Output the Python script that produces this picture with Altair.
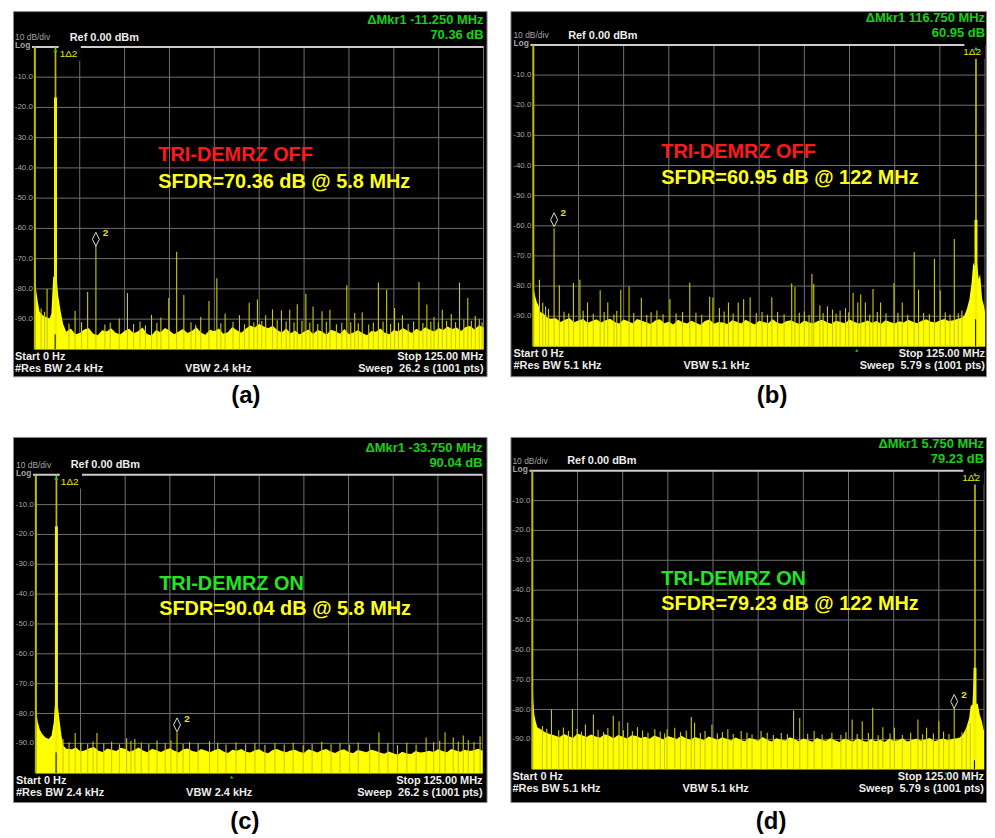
import altair as alt
import pandas as pd

FONT = "Liberation Sans"

# ---------------- shared axis data ----------------
GRID_F = [0, 12.5, 25, 37.5, 50, 62.5, 75, 87.5, 100, 112.5, 125]
GRID_DB = [-10, -20, -30, -40, -50, -60, -70, -80, -90, -100]
YLAB_DB = [-10, -20, -30, -40, -50, -60, -70, -80, -90]
YLAB_TXT = ["-10.0", "-20.0", "-30.0", "-40.0", "-50.0", "-60.0", "-70.0", "-80.0", "-90.0"]
BIN = 1.25  # MHz spacing of the typed noise-floor samples

# ---------------- panel (a): OFF, 5.8 MHz ----------------
A_NEAR = [(0.0, -66.3), (0.18, -77.8), (0.37, -80.5), (0.83, -84.4), (1.3, -87.6), (2.2, -88.7),
          (3.1, -89.3), (4.1, -89.8), (4.6, -88.2), (5.1, -76.2), (5.55, -75.1), (6.0, -75.6),
          (6.5, -82.2), (7.2, -87.6), (7.85, -91.5)]
A_FLOOR_F0 = 8.75
A_FLOOR = [-94.2, -93.1, -95.0, -94.6, -93.4, -92.9, -94.8, -95.3, -93.7, -94.1,
           -93.0, -94.5, -95.1, -93.9, -93.2, -94.7, -94.0, -92.8, -94.9, -95.4,
           -93.6, -94.3, -92.9, -93.8, -95.0, -94.2, -93.3, -94.6, -93.9, -92.7,
           -94.4, -95.2, -93.5, -94.0, -93.1, -94.8, -94.3, -92.6, -93.7, -94.5,
           -93.2, -92.1, -92.8, -91.6, -92.4, -93.0, -92.2, -93.6, -94.4, -93.1,
           -94.7, -93.8, -95.1, -94.2, -93.4, -94.9, -93.6, -94.1, -95.2, -93.5,
           -94.0, -94.8, -93.3, -95.0, -94.4, -93.7, -94.6, -95.3, -93.9, -94.2,
           -93.1, -94.5, -95.0, -93.6, -94.1, -92.9, -93.8, -94.6, -93.2, -94.0,
           -92.7, -93.5, -94.1, -92.9, -93.6, -92.4, -93.3, -92.8, -93.9, -92.6,
           -92.3, -93.4, -92.0, -92.8]
A_FAR = []
A_SPURS = [(1.75, -86.5), (2.7, -87.6), (3.4, -80.0), (11.2, -87.3), (14.7, -81.0), (17.0, -65.8),
           (23.5, -89.8), (25.8, -81.4), (32.5, -88.6), (35.1, -89.5), (37.3, -83.0), (39.5, -67.7),
           (41.5, -82.0), (46.2, -89.3), (48.5, -84.0), (50.7, -76.5), (53.0, -88.1), (57.0, -88.7),
           (59.7, -84.6), (62.0, -83.5), (64.3, -88.7), (66.2, -86.8), (68.7, -87.1), (71.0, -86.9),
           (73.1, -85.1), (75.5, -81.6), (77.5, -85.8), (80.0, -87.4), (82.2, -86.9), (86.9, -78.8),
           (89.1, -88.0), (91.2, -87.7), (95.7, -77.9), (98.0, -80.2), (100.2, -86.3), (102.4, -88.7),
           (107.0, -77.7), (109.2, -85.2), (111.2, -89.3), (113.5, -86.9), (116.0, -88.3),
           (118.3, -77.9), (120.6, -83.0), (122.7, -89.0), (124.6, -91.0),
           (9.5, -91.5), (13.0, -91.0), (19.5, -91.8), (21.0, -91.2), (27.5, -91.6), (29.3, -90.8),
           (30.8, -92.0), (34.0, -91.3), (43.5, -91.0), (44.8, -91.9), (51.8, -91.4), (55.2, -90.9),
           (58.4, -91.7), (61.0, -91.0), (63.2, -90.6), (67.5, -90.4), (70.0, -90.8), (72.2, -91.1),
           (74.4, -90.5), (76.6, -91.2), (78.8, -91.6), (81.2, -90.9), (84.0, -91.7), (85.5, -91.2),
           (88.0, -91.0), (90.1, -91.4), (93.0, -91.8), (94.3, -91.1), (97.0, -90.9), (99.1, -91.5),
           (101.3, -91.2), (104.0, -91.6), (105.5, -90.8), (108.1, -91.3), (110.3, -90.9),
           (112.4, -91.0), (114.7, -90.6), (117.2, -91.0), (119.5, -90.2), (121.6, -90.5), (123.8, -90.0)]

# ---------------- panel (b): OFF, 122 MHz ----------------
B_NEAR = [(0.0, -73.3), (0.1, -80.4), (0.3, -82.1), (0.55, -83.5), (1.0, -85.4), (1.45, -86.4),
          (1.95, -88.6), (2.85, -89.2), (3.75, -90.3), (4.7, -90.8)]
B_FLOOR_F0 = 6.25
B_FLOOR = [-90.7, -91.9, -91.2, -90.6, -92.0, -91.4, -90.9, -92.2, -91.6, -91.0,
           -92.1, -91.3, -90.8, -91.9, -92.4, -91.1, -91.7, -92.3, -90.9, -91.5,
           -92.0, -92.6, -91.4, -91.0, -92.3, -91.8, -92.7, -91.2, -91.9, -92.4,
           -91.5, -92.2, -92.8, -91.6, -91.1, -92.5, -91.9, -92.1, -92.6, -91.3,
           -91.8, -92.4, -91.2, -92.0, -92.7, -91.5, -91.9, -92.3, -91.0, -92.2,
           -92.5, -91.7, -91.3, -92.1, -92.6, -91.4, -92.0, -92.4, -91.6, -91.2,
           -92.0, -92.5, -91.5, -91.9, -92.3, -91.1, -91.8, -92.4, -92.0, -91.4,
           -92.2, -91.6, -92.5, -91.3, -91.9, -92.4, -91.7, -92.1, -91.2, -91.8,
           -92.3, -91.5, -91.0, -91.8, -92.1, -91.4, -90.9, -91.6, -91.3, -90.8]
B_FAR = [(118.6, -90.5), (119.3, -89.7), (120.0, -87.5), (120.7, -84.3), (121.3, -78.8),
         (121.75, -72.2), (122.1, -73.3), (122.5, -72.0), (122.85, -72.8), (123.25, -77.7),
         (123.65, -76.1), (124.2, -84.3), (124.7, -86.4), (125.0, -88.6)]
B_SPURS = [(1.7, -77.9), (5.75, -60.8), (7.2, -79.7), (11.1, -79.0), (12.9, -77.9), (15.0, -85.4),
           (18.5, -81.4), (20.6, -85.4), (24.2, -81.2), (26.5, -80.1), (29.9, -83.9), (34.2, -88.1),
           (37.8, -84.3), (41.3, -88.6), (43.3, -78.8), (48.8, -83.5), (49.7, -83.8), (51.5, -87.3),
           (54.0, -85.4), (56.7, -85.4), (58.2, -84.4), (60.0, -83.7), (63.3, -88.6), (66.0, -83.7),
           (71.5, -79.1), (72.4, -80.3), (75.0, -88.4), (77.1, -76.0), (77.6, -79.3), (79.3, -86.4),
           (81.4, -86.7), (82.8, -87.8), (84.9, -88.1), (86.4, -87.3), (88.5, -82.3), (89.8, -85.4),
           (90.6, -82.8), (91.9, -85.4), (94.0, -81.0), (96.1, -85.4), (99.8, -79.0), (102.1, -85.4),
           (105.4, -68.7), (106.6, -81.2), (111.0, -70.9), (112.6, -81.5), (116.5, -64.4),
           (118.6, -88.1),
           (2.6, -85.5), (3.4, -86.8), (4.2, -87.5), (8.5, -88.5), (9.8, -89.0), (13.8, -88.2),
           (16.6, -89.2), (19.6, -88.6), (22.3, -89.4), (23.1, -88.3), (27.8, -88.9), (31.4, -89.6),
           (32.6, -88.7), (35.9, -89.3), (39.5, -89.0), (45.0, -88.8), (46.6, -89.5), (52.8, -88.4),
           (55.3, -89.1), (61.7, -88.9), (64.8, -89.5), (67.6, -88.6), (69.4, -89.3), (73.6, -88.8),
           (76.3, -89.6), (80.2, -88.9), (83.8, -89.2), (87.3, -88.7), (93.1, -89.4), (95.2, -88.6),
           (97.6, -89.0), (100.9, -88.8), (103.6, -89.5), (108.0, -88.9), (109.6, -89.3),
           (114.0, -88.7), (115.3, -89.4), (117.6, -89.0)]

# ---------------- panel (c): ON, 5.8 MHz ----------------
C_NEAR = [(0.0, -68.3), (0.19, -79.9), (0.56, -83.0), (1.11, -85.4), (1.76, -86.9), (2.69, -88.0),
          (3.62, -88.5), (4.4, -87.4), (5.0, -83.0), (5.3, -77.5), (5.75, -77.0), (6.2, -78.0),
          (6.7, -83.0), (7.15, -87.4), (7.7, -90.7), (8.5, -91.8)]
C_FLOOR_F0 = 10.0
C_FLOOR = [-92.0, -91.4, -92.7, -92.3, -91.6, -91.2, -92.5, -92.9, -91.7, -92.1,
           -92.6, -91.5, -91.9, -92.8, -92.2, -91.4, -92.4, -93.0, -91.8, -92.3,
           -92.9, -92.1, -91.6, -92.5, -93.1, -92.0, -91.7, -92.6, -92.9, -91.9,
           -92.4, -93.0, -92.2, -91.8, -92.7, -93.2, -92.1, -92.5, -91.9, -92.8,
           -93.1, -92.3, -92.0, -92.9, -93.3, -92.2, -91.9, -92.6, -93.0, -92.4,
           -92.1, -92.8, -93.2, -92.0, -92.5, -93.1, -92.3, -91.9, -92.7, -93.2,
           -92.4, -92.0, -92.9, -93.3, -92.2, -92.6, -93.0, -92.1, -92.5, -93.1,
           -93.5, -92.7, -93.3, -93.8, -92.8, -93.4, -93.6, -92.6, -93.1, -92.9,
           -92.5, -92.9, -92.0, -92.6, -93.0, -91.9, -92.4, -92.8, -92.1, -92.6,
           -92.3, -91.8, -92.5]
C_FAR = []
C_SPURS = [(11.0, -86.5), (17.1, -86.5), (25.4, -88.3), (27.7, -88.5), (39.5, -86.3), (96.0, -86.3),
           (109.2, -88.0), (114.5, -86.3), (116.8, -88.0), (119.6, -87.4), (124.3, -87.6),
           (7.6, -88.5), (9.3, -89.6), (12.6, -89.8), (14.5, -90.2), (16.0, -89.4), (19.0, -90.0),
           (21.2, -89.5), (23.4, -90.3), (26.6, -89.2), (29.5, -89.7), (31.6, -90.1), (33.9, -89.0),
           (36.2, -89.9), (37.8, -89.0), (41.2, -90.2), (43.0, -89.6), (45.4, -90.0), (48.6, -89.3),
           (50.9, -89.8), (53.2, -90.4), (56.0, -89.7), (58.7, -90.3), (61.3, -89.9), (64.1, -90.5),
           (66.9, -90.0), (69.5, -90.4), (72.0, -89.8), (74.8, -90.6), (77.3, -90.1), (80.0, -89.5),
           (82.6, -90.3), (85.1, -89.9), (87.8, -90.5), (90.2, -89.7), (93.4, -90.2), (98.5, -89.9),
           (101.2, -90.6), (103.8, -89.8), (106.4, -90.4), (111.3, -89.6), (113.0, -89.2),
           (118.2, -89.4), (121.0, -88.9), (122.6, -89.6)]

# ---------------- panel (d): ON, 122 MHz ----------------
D_NEAR = [(0.0, -66.7), (0.28, -77.2), (0.55, -81.7), (0.92, -83.9), (1.38, -85.9), (2.3, -86.6),
          (3.67, -87.7), (5.0, -88.3)]
D_FLOOR_F0 = 6.25
D_FLOOR = [-88.7, -89.3, -88.2, -88.9, -89.5, -88.0, -88.6, -89.2, -88.4, -89.0,
           -89.4, -88.3, -88.8, -89.6, -88.5, -89.1, -89.7, -88.6, -88.9, -89.5,
           -89.1, -89.8, -88.7, -89.3, -90.0, -88.9, -89.4, -89.9, -88.8, -89.6,
           -90.1, -89.2, -89.7, -90.3, -89.0, -89.5, -90.2, -89.3, -89.8, -90.4,
           -89.4, -90.0, -90.6, -89.5, -89.9, -90.5, -89.2, -90.1, -90.7, -89.6,
           -90.0, -90.4, -89.3, -89.9, -90.6, -89.7, -90.2, -90.8, -89.5, -90.1,
           -90.5, -89.6, -90.3, -90.9, -89.8, -90.2, -90.7, -89.7, -90.4, -90.8,
           -89.9, -90.6, -90.1, -90.9, -89.8, -90.5, -90.3, -89.6, -90.7, -90.2,
           -89.8, -90.4, -90.0, -89.5, -90.6, -90.1, -89.7, -90.3, -89.9, -89.6]
D_FAR = [(118.3, -89.4), (119.2, -88.3), (120.1, -86.1), (120.9, -82.8), (121.3, -78.9),
         (121.8, -78.3), (122.1, -70.6), (122.3, -66.2), (122.5, -66.0), (122.75, -77.8),
         (123.3, -78.3), (123.8, -81.7), (124.4, -83.9), (124.75, -86.1), (125.0, -87.2)]
D_SPURS = [(5.3, -80.0), (11.1, -80.0), (14.7, -85.0), (16.9, -81.7), (22.4, -82.1), (24.0, -83.9),
           (26.4, -84.4), (29.1, -85.9), (33.9, -86.6), (37.3, -86.6), (39.4, -86.1), (44.0, -82.5),
           (44.9, -84.4), (49.7, -85.0), (54.1, -86.6), (57.8, -87.2), (63.3, -87.2), (72.3, -80.3),
           (74.0, -82.8), (78.0, -87.2), (88.5, -83.3), (91.3, -83.9), (94.2, -79.4), (97.0, -85.9),
           (100.2, -86.1), (106.7, -83.3), (109.1, -86.1), (112.5, -83.9), (116.75, -79.4),
           (120.1, -86.1),
           (2.8, -85.5), (4.0, -86.4), (7.3, -86.9), (8.6, -86.0), (10.0, -87.2), (12.4, -86.5),
           (13.6, -87.4), (18.2, -86.8), (19.7, -87.5), (20.9, -86.2), (25.2, -86.9), (27.7, -87.3),
           (30.5, -87.0), (32.0, -87.8), (35.4, -87.4), (36.6, -88.0), (41.0, -87.6), (42.6, -87.1),
           (46.5, -87.9), (47.8, -87.2), (51.2, -88.0), (52.6, -87.5), (55.6, -88.2), (59.4, -87.7),
           (60.8, -88.4), (65.0, -87.8), (66.7, -88.5), (68.9, -87.9), (70.6, -88.3), (76.2, -88.1),
           (80.2, -88.4), (82.9, -87.8), (85.4, -88.5), (86.8, -87.6), (89.9, -88.2), (93.0, -87.9),
           (95.7, -88.6), (99.0, -88.0), (102.4, -88.5), (104.7, -87.8), (108.0, -88.3),
           (111.0, -88.0), (113.8, -87.4), (115.3, -88.2), (118.9, -87.6), (121.2, -84.5)]

# ---------------- panel settings (layout + labels) ----------------
PANELS = {
    "a": dict(W=476, H=367, pl=22, pt=36, pw=451, ph=304,
              near=A_NEAR, f0=A_FLOOR_F0, floor=A_FLOOR, far=A_FAR, spurs=A_SPURS,
              notch=(5.65, -95.0), carrier=(5.75, -16.7), tag=(6.9, -2.3, "left"), tag_rect=(6.6, 12.8),
              mk2=(17.0, -63.6), mk2lab=(18.9, -61.4), mk1ref=106.4,
              g1="ΔMkr1 -11.250 MHz", g2="70.36 dB", status="TRI-DEMRZ OFF", status_col="#ff1a1a",
              sfdr="SFDR=70.36 dB @ 5.8 MHz", tpos=(34.4, -35.9, -44.7),
              rbw="#Res BW 2.4 kHz", vbw="VBW 2.4 kHz", sweep="Sweep\u00a0\u00a026.2 s (1001 pts)",
              cap="(a)", cap_dx=-4),
    "b": dict(W=478, H=367, pl=23, pt=34, pw=454, ph=303,
              near=B_NEAR, f0=B_FLOOR_F0, floor=B_FLOOR, far=B_FAR, spurs=B_SPURS,
              notch=(122.4, -91.0), carrier=(122.5, -58.0), tag=(123.9, -2.3, "right"), tag_rect=(119.3, 125.0),
              mk2=(5.75, -58.0), mk2lab=(7.5, -55.8), mk1ref=89.5,
              g1="ΔMkr1 116.750 MHz", g2="60.95 dB", status="TRI-DEMRZ OFF", status_col="#ff1a1a",
              sfdr="SFDR=60.95 dB @ 122 MHz", tpos=(35.4, -35.6, -44.2),
              rbw="#Res BW 5.1 kHz", vbw="VBW 5.1 kHz", sweep="Sweep\u00a0\u00a05.79 s (1001 pts)",
              cap="(b)", cap_dx=24),
    "c": dict(W=476, H=367, pl=23, pt=38, pw=449, ph=300,
              near=C_NEAR, f0=C_FLOOR_F0, floor=C_FLOOR, far=C_FAR, spurs=C_SPURS,
              notch=(5.65, -93.0), carrier=(5.75, -17.3), tag=(7.0, -2.3, "left"), tag_rect=(6.7, 12.9),
              mk2=(39.5, -83.8), mk2lab=(41.5, -81.7), mk1ref=54.8,
              g1="ΔMkr1 -33.750 MHz", g2="90.04 dB", status="TRI-DEMRZ ON", status_col="#22e622",
              sfdr="SFDR=90.04 dB @ 5.8 MHz", tpos=(34.5, -36.6, -45.1),
              rbw="#Res BW 2.4 kHz", vbw="VBW 2.4 kHz", sweep="Sweep\u00a0\u00a026.2 s (1001 pts)",
              cap="(c)", cap_dx=-5),
    "d": dict(W=478, H=367, pl=22, pt=34, pw=454, ph=300,
              near=D_NEAR, f0=D_FLOOR_F0, floor=D_FLOOR, far=D_FAR, spurs=D_SPURS,
              notch=(122.35, -97.0), carrier=(122.5, -66.0), tag=(123.9, -2.5, "right"), tag_rect=(119.3, 125.0),
              mk2=(116.75, -77.3), mk2lab=(118.7, -75.0), mk1ref=114.5,
              g1="ΔMkr1 5.750 MHz", g2="79.23 dB", status="TRI-DEMRZ ON", status_col="#22e622",
              sfdr="SFDR=79.23 dB @ 122 MHz", tpos=(35.7, -36.2, -44.8),
              rbw="#Res BW 5.1 kHz", vbw="VBW 5.1 kHz", sweep="Sweep\u00a0\u00a05.79 s (1001 pts)",
              cap="(d)", cap_dx=23),
}

GRID_COL = "#707070"
TOP_COL = "#cccccc"
FILL_COL = "#ffff00"
SPUR_COL = "#cccc00"
OLIVE = "#bcbc00"
MK_GREEN = "#12d412"
WHITE = "#ececec"
GREY = "#a3a3a3"
DIAMOND = "M0,-1L0.5,0L0,1L-0.5,0Z"


def txt(text, px, py, size, color, align="left", weight="bold"):
    return alt.Chart().mark_text(
        text=text, font=FONT, fontSize=size, fontWeight=weight, color=color,
        align=align, baseline="middle"
    ).encode(x=alt.value(px), y=alt.value(py))


def build(c):
    W, H, pl, pt, pw, ph = c["W"], c["H"], c["pl"], c["pt"], c["pw"], c["ph"]
    xs = alt.Scale(domain=[-pl * 125 / pw, 125 + (W - pl - pw) * 125 / pw], nice=False, zero=False)
    ys = alt.Scale(domain=[-100 - (H - pt - ph) * 100 / ph, pt * 100 / ph], nice=False, zero=False)

    def X(f):
        return alt.X(f, type="quantitative", scale=xs, axis=None)

    def Y(f):
        return alt.Y(f, type="quantitative", scale=ys, axis=None)

    L = []
    # grid
    vg = pd.DataFrame({"f": GRID_F, "lo": -100.0, "hi": 0.0})
    L.append(alt.Chart(vg).mark_rule(color=GRID_COL, strokeWidth=1).encode(
        x=X("f"), y=Y("lo"), y2=alt.Y2("hi")))
    hg = pd.DataFrame({"db": GRID_DB, "x0": 0.0, "x1": 125.0})
    L.append(alt.Chart(hg).mark_rule(color=GRID_COL, strokeWidth=1).encode(
        x=X("x0"), x2=alt.X2("x1"), y=Y("db")))
    tl = pd.DataFrame({"db": [0.0], "x0": [-0.8], "x1": [125.0]})
    L.append(alt.Chart(tl).mark_rule(color=TOP_COL, strokeWidth=2).encode(
        x=X("x0"), x2=alt.X2("x1"), y=Y("db")))
    # y labels
    yl = pd.DataFrame({"db": YLAB_DB, "lab": YLAB_TXT, "f": 0.0})
    L.append(alt.Chart(yl).mark_text(font=FONT, fontSize=8, color=GREY, align="right",
                                     baseline="middle", dx=-2).encode(
        x=X("f"), y=Y("db"), text=alt.Text("lab:N")))
    # trace: noise floor area
    rows = list(c["near"]) + [(c["f0"] + i * BIN, v) for i, v in enumerate(c["floor"])] + list(c["far"])
    tr = pd.DataFrame(rows, columns=["f", "db"])
    tr["base"] = -100.0
    L.append(alt.Chart(tr).mark_area(color=FILL_COL, opacity=1, interpolate="linear").encode(
        x=X("f"), y=Y("db"), y2=alt.Y2("base")))
    # spurs
    sp = pd.DataFrame(c["spurs"], columns=["f", "db"])
    sp["base"] = -100.0
    L.append(alt.Chart(sp).mark_rule(color=SPUR_COL, strokeWidth=1.1).encode(
        x=X("f"), y=Y("base"), y2=alt.Y2("db")))
    # DC / LO feedthrough line at 0 Hz
    dc = pd.DataFrame({"f": [0.0], "lo": [-100.0], "hi": [0.0]})
    L.append(alt.Chart(dc).mark_rule(color=OLIVE, strokeWidth=2).encode(
        x=X("f"), y=Y("lo"), y2=alt.Y2("hi")))
    # carrier
    cf, ctk = c["carrier"]
    ca = pd.DataFrame({"f": [cf], "lo": [-100.0], "hi": [0.0]})
    L.append(alt.Chart(ca).mark_rule(color=OLIVE, strokeWidth=1.7).encode(
        x=X("f"), y=Y("lo"), y2=alt.Y2("hi")))
    ck = pd.DataFrame({"f": [cf], "lo": [-100.0], "hi": [ctk]})
    L.append(alt.Chart(ck).mark_rule(color="#f2f200", strokeWidth=3).encode(
        x=X("f"), y=Y("lo"), y2=alt.Y2("hi")))
    # notch next to the carrier
    nf, ntop = c["notch"]
    nt = pd.DataFrame({"f": [nf], "lo": [-100.0], "hi": [ntop]})
    L.append(alt.Chart(nt).mark_rule(color="#000000", strokeWidth=1).encode(
        x=X("f"), y=Y("lo"), y2=alt.Y2("hi")))
    # marker 1 label box + label
    r0, r1 = c["tag_rect"]
    rb = pd.DataFrame({"x0": [r0], "x1": [r1], "y0": [0.7], "y1": [-4.6]})
    L.append(alt.Chart(rb).mark_rect(color="#000000").encode(
        x=X("x0"), x2=alt.X2("x1"), y=Y("y0"), y2=alt.Y2("y1")))
    tf, tdb, talign = c["tag"]
    tg = pd.DataFrame({"f": [tf], "db": [tdb], "t": ["1Δ2"]})
    L.append(alt.Chart(tg).mark_text(font=FONT, fontSize=10, color="#e6e600", align=talign,
                                     baseline="middle").encode(
        x=X("f"), y=Y("db"), text=alt.Text("t:N")))
    gm = pd.DataFrame({"f": [cf], "db": [-1.2]})
    L.append(alt.Chart(gm).mark_point(shape="triangle-up", filled=True, color=MK_GREEN, size=16,
                                      opacity=1).encode(x=X("f"), y=Y("db")))
    # marker 2 diamond and label
    m2 = pd.DataFrame({"f": [c["mk2"][0]], "db": [c["mk2"][1]]})
    L.append(alt.Chart(m2).mark_point(shape=DIAMOND, filled=False, color="#dcdcdc", size=196,
                                      strokeWidth=1, opacity=1).encode(x=X("f"), y=Y("db")))
    m2l = pd.DataFrame({"f": [c["mk2lab"][0]], "db": [c["mk2lab"][1]], "t": ["2"]})
    L.append(alt.Chart(m2l).mark_text(font=FONT, fontSize=10, fontWeight="bold", color="#e6e600",
                                      align="left", baseline="middle").encode(
        x=X("f"), y=Y("db"), text=alt.Text("t:N")))
    # small green marker at the bottom edge
    mb = pd.DataFrame({"f": [c["mk1ref"]], "db": [-101.3]})
    L.append(alt.Chart(mb).mark_point(shape="triangle-up", filled=True, color=MK_GREEN, size=10,
                                      opacity=1).encode(x=X("f"), y=Y("db")))
    # annotation text
    tx, ty1, ty2 = c["tpos"]
    an = pd.DataFrame({"f": [tx, tx], "db": [ty1, ty2], "t": [c["status"], c["sfdr"]],
                       "k": ["s", "f"]})
    L.append(alt.Chart(an).transform_filter(alt.datum.k == "s").mark_text(
        font=FONT, fontSize=20, fontWeight="bold", color=c["status_col"], align="left",
        baseline="middle").encode(x=X("f"), y=Y("db"), text=alt.Text("t:N")))
    L.append(alt.Chart(an).transform_filter(alt.datum.k == "f").mark_text(
        font=FONT, fontSize=20, fontWeight="bold", color="#ffff14", align="left",
        baseline="middle").encode(x=X("f"), y=Y("db"), text=alt.Text("t:N")))
    # header / footer of the analyser screen
    right = pl + pw
    bot = pt + ph
    L.append(txt(c["g1"], right, pt - 27, 13, MK_GREEN, "right"))
    L.append(txt(c["g2"], right, pt - 12, 13, MK_GREEN, "right"))
    L.append(txt("10 dB/div", pl - 20, pt - 10, 8.5, GREY, "left", "normal"))
    L.append(txt("Log", pl - 20, pt - 1.5, 8.5, GREY, "left"))
    L.append(txt("Ref 0.00 dBm", pl + 35, pt - 9.3, 11, WHITE, "left"))
    L.append(txt("Start 0 Hz", pl - 20, bot + 7.5, 11, WHITE, "left"))
    L.append(txt(c["rbw"], pl - 20, bot + 20, 11, WHITE, "left"))
    L.append(txt(c["vbw"], pl + 151, bot + 20, 11, WHITE, "left"))
    L.append(txt("Stop 125.00 MHz", right, bot + 7.5, 11, WHITE, "right"))
    L.append(txt(c["sweep"], right, bot + 20, 11, WHITE, "right"))

    return alt.layer(*L).properties(
        width=W, height=H,
        title=alt.TitleParams(text=c["cap"], orient="bottom", anchor="middle", font=FONT,
                              fontSize=24, fontWeight="bold", color="#000000", offset=8,
                              dx=c["cap_dx"]))


row1 = alt.hconcat(build(PANELS["a"]), build(PANELS["b"]), spacing=22)
row2 = alt.hconcat(build(PANELS["c"]), build(PANELS["d"]), spacing=22)
chart = alt.vconcat(row1, row2, spacing=27).properties(
    padding={"left": 4, "top": 0, "right": 0, "bottom": 0},
    background="#ffffff",
).configure_view(fill="#000000", stroke="#8c8c8c", strokeWidth=1)

chart.save("out.html", embed_options={"renderer": "svg", "actions": False})
